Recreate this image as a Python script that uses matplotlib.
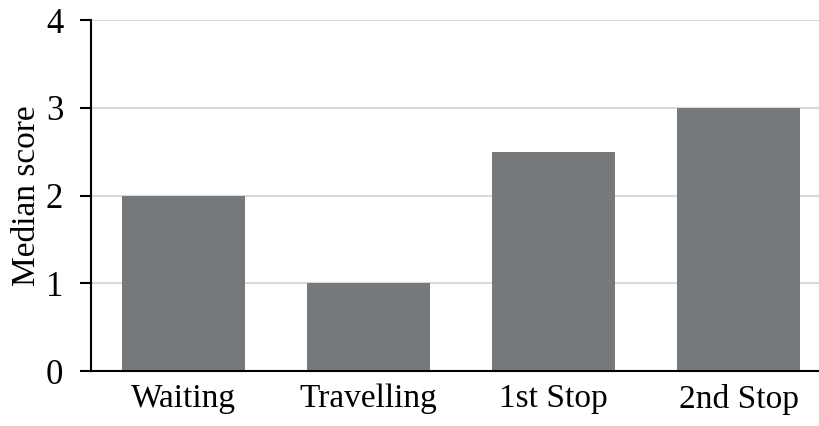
import matplotlib.pyplot as plt

stages = ['Waiting', 'Travelling', '1st Stop', '2nd Stop']
median_score = [2, 1, 2.5, 3]

plt.rcParams['font.family'] = ['Liberation Serif', 'DejaVu Serif']

fig = plt.figure(figsize=(8.19, 4.26), dpi=100)
ax = fig.add_axes([0.111, 0.129, 0.889, 0.824])

ax.bar(range(len(stages)), median_score, width=0.665, color='#76797b', zorder=2)
ax.set_xlim(-0.5, 3.435)
ax.set_ylim(0, 4)
ax.set_yticks([0, 1, 2, 3, 4])
ax.yaxis.grid(True, color='#d9d9d9', linewidth=1.5, zorder=0)
ax.set_xticks(range(len(stages)))
ax.set_xticklabels(stages)
ax.tick_params(axis='x', length=0, labelsize=24, pad=9)
ax.tick_params(axis='y', length=8, width=1.5, labelsize=25, pad=12)
ax.set_ylabel('Median score', fontsize=24, labelpad=3)

for s in ['top', 'right']:
    ax.spines[s].set_visible(False)
ax.spines['left'].set_linewidth(1.5)
ax.spines['bottom'].set_linewidth(1.5)

fig.savefig('out.png', dpi=100)
